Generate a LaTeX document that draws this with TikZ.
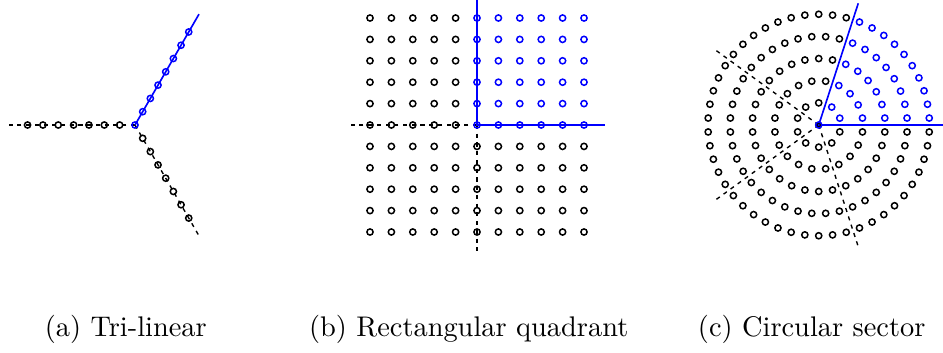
\documentclass[tikz,border=0pt]{standalone}
\usetikzlibrary{calc}
\definecolor{sblue}{RGB}{0,0,255}
\begin{document}
\begin{tikzpicture}[x=0.3663pt,y=0.3663pt,
  ring/.style={line width=0.55pt},
  bluept/.style={ring,draw=sblue},
  blackpt/.style={ring,draw=black},
  bluel/.style={draw=sblue,line width=0.6pt},
  dashl/.style={draw=black,line width=0.5pt,dash pattern=on 1.5pt off 1.7pt},
  captxt/.style={anchor=base,inner sep=0pt,font=\fontsize{10.4}{12.5}\selectfont}]
\useasboundingbox (0,0) rectangle (943,352);
% ---------- (a) Tri-linear ----------
\coordinate (A) at (135,227);
\coordinate (Aw) at ($(A)+(180:128)$);
\coordinate (An) at ($(A)+(60:128)$);
\coordinate (As) at ($(A)+(-60:128)$);
\draw[dashl] (A) -- (Aw);
\draw[dashl] (A) -- (As);
\draw[bluel] (A) -- (An);
\foreach \k in {1,...,7}{
  \draw[blackpt,shift={(A)}] (180:{\k*15.35}) circle[radius=3.1];
  \draw[blackpt,shift={(A)}] (-60:{\k*15.35}) circle[radius=3.1];
  \draw[bluept,shift={(A)}] (60:{\k*15.35}) circle[radius=3.1];
}
\draw[bluept] (A) circle[radius=3.1];
% ---------- (b) Rectangular quadrant ----------
\coordinate (B) at (477,227);
\coordinate (Bw) at ($(B)+(-128,0)$);
\coordinate (Be) at ($(B)+(128,0)$);
\coordinate (Bn) at ($(B)+(0,128)$);
\coordinate (Bs) at ($(B)+(0,-128)$);
\draw[dashl] (B) -- (Bw);
\draw[dashl] (B) -- (Bs);
\draw[bluel] (Bn) -- (B) -- (Be);
\foreach \i in {-5,...,-1}{
  \foreach \j in {-5,...,5}{
    \draw[blackpt,shift={(B)}] ({\i*21.4},{\j*21.4}) circle[radius=3.1];
  }
}
\foreach \i in {0,...,5}{
  \foreach \j in {-5,...,-1}{
    \draw[blackpt,shift={(B)}] ({\i*21.4},{\j*21.4}) circle[radius=3.1];
  }
  \foreach \j in {0,...,5}{
    \draw[bluept,shift={(B)}] ({\i*21.4},{\j*21.4}) circle[radius=3.1];
  }
}
% ---------- (c) Circular sector ----------
\coordinate (C) at (818.7,227);
\coordinate (Ce) at ($(C)+(0:128)$);
\coordinate (Cn) at ($(C)+(72:128)$);
\coordinate (C2) at ($(C)+(144:128)$);
\coordinate (C3) at ($(C)+(216:128)$);
\coordinate (C4) at ($(C)+(288:128)$);
\draw[dashl] (C) -- (C2);
\draw[dashl] (C) -- (C3);
\draw[dashl] (C) -- (C4);
\draw[bluel] (Cn) -- (C) -- (Ce);
\foreach \k in {1,...,5}{
  \pgfmathtruncatemacro\nb{2*\k-1}
  \pgfmathtruncatemacro\nbb{2*\k}
  \pgfmathtruncatemacro\nn{10*\k-1}
  \foreach \j in {0,...,\nb}{
    \draw[bluept,shift={(C)}] ({(\j+0.5)*36/\k}:{\k*22.15}) circle[radius=3.1];
  }
  \foreach \j in {\nbb,...,\nn}{
    \draw[blackpt,shift={(C)}] ({(\j+0.5)*36/\k}:{\k*22.15}) circle[radius=3.1];
  }
}
\draw[blackpt] (C) circle[radius=2];
\draw[bluept] (C) circle[radius=3.1];
% ---------- captions ----------
\node[captxt] (capa) at (125.8,16) {(a) Tri-linear};
\node[captxt] (capb) at (468.7,16) {(b) Rectangular quadrant};
\node[captxt] (capc) at (811.7,16) {(c) Circular sector};
\end{tikzpicture}
\end{document}
